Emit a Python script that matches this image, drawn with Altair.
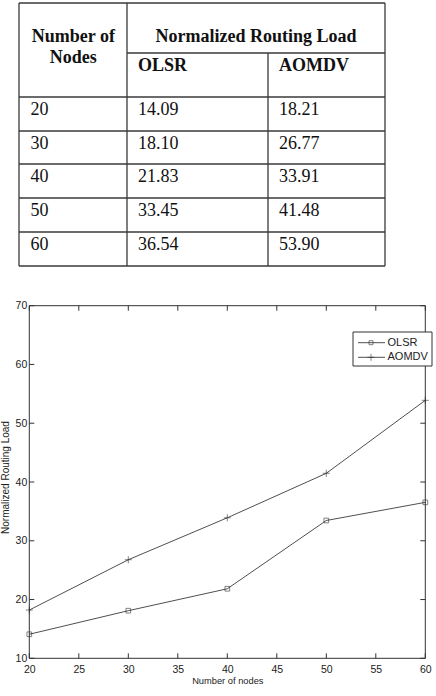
import altair as alt
import pandas as pd

# ---------------- data ----------------
nodes = [20, 30, 40, 50, 60]
olsr = [14.09, 18.10, 21.83, 33.45, 36.54]
aomdv = [18.21, 26.77, 33.91, 41.48, 53.90]
olsr_text = ["14.09", "18.10", "21.83", "33.45", "36.54"]
aomdv_text = ["18.21", "26.77", "33.91", "41.48", "53.90"]
nodes_text = ["20", "30", "40", "50", "60"]
x_ticks = [20, 25, 30, 35, 40, 45, 50, 55, 60]
y_ticks = [10, 20, 30, 40, 50, 60, 70]
header_group = "Normalized Routing Load"
header_first = ["Number of", "Nodes"]
series_names = ["OLSR", "AOMDV"]

# ---------------- layout (pixels) ----------------
W, H = 436, 696
COL_X = [19, 127, 268, 385]
TOP_Y, SUB_Y = 3, 53
ROW_LINES = [97, 131, 164, 198, 232, 266]
TXT = "#111111"
LINE = "#3a3a3a"
INK = "#222222"
SERIF = "Liberation Serif"
SANS = "Liberation Sans"

tx = alt.Scale(domain=[0, W], range=[0, W])
ty = alt.Scale(domain=[0, H], range=[0, H])

# table grid segments
segs = [dict(x=COL_X[0], x2=COL_X[3], y=TOP_Y, y2=TOP_Y),
        dict(x=COL_X[1], x2=COL_X[3], y=SUB_Y, y2=SUB_Y)]
segs += [dict(x=COL_X[0], x2=COL_X[3], y=r, y2=r) for r in ROW_LINES]
segs += [dict(x=COL_X[0], x2=COL_X[0], y=TOP_Y, y2=ROW_LINES[-1]),
         dict(x=COL_X[1], x2=COL_X[1], y=TOP_Y, y2=ROW_LINES[-1]),
         dict(x=COL_X[2], x2=COL_X[2], y=SUB_Y, y2=ROW_LINES[-1]),
         dict(x=COL_X[3], x2=COL_X[3], y=TOP_Y, y2=ROW_LINES[-1])]
seg_df = pd.DataFrame(segs)

grid = alt.Chart(seg_df).mark_rule(color=LINE, strokeWidth=1.3).encode(
    x=alt.X("x:Q", scale=tx, axis=None),
    x2="x2:Q",
    y=alt.Y("y:Q", scale=ty, axis=None),
    y2="y2:Q",
)

first_cx = (COL_X[0] + COL_X[1]) / 2 + 0.3
group_cx = (COL_X[1] + COL_X[3]) / 2
hdr_center = pd.DataFrame([
    dict(x=first_cx, y=42, t=header_first[0]),
    dict(x=first_cx, y=62.5, t=header_first[1]),
    dict(x=group_cx, y=42, t=header_group),
])
hdr_left = pd.DataFrame([
    dict(x=COL_X[1] + 11, y=71, t=series_names[0]),
    dict(x=COL_X[2] + 11, y=71, t=series_names[1]),
])
cells = []
for i in range(len(nodes)):
    yb = ROW_LINES[i] + 17.5
    cells.append(dict(x=COL_X[0] + 11.5, y=yb, t=nodes_text[i]))
    cells.append(dict(x=COL_X[1] + 11, y=yb, t=olsr_text[i]))
    cells.append(dict(x=COL_X[2] + 11, y=yb, t=aomdv_text[i]))
cell_df = pd.DataFrame(cells)

def table_text(df, align, weight):
    return alt.Chart(df).mark_text(
        align=align, baseline="alphabetic", font=SERIF, fontSize=18,
        fontWeight=weight, color=TXT,
    ).encode(
        x=alt.X("x:Q", scale=tx, axis=None),
        y=alt.Y("y:Q", scale=ty, axis=None),
        text="t:N",
    )

table = alt.layer(
    grid,
    table_text(hdr_center, "center", "bold"),
    table_text(hdr_left, "left", "bold"),
    table_text(cell_df, "left", "normal"),
)

# ---------------- line plot ----------------
PL, PR, PT, PB = 29.3, 425.3, 305.7, 658.3
def px():
    return alt.Scale(domain=[20, 60], range=[PL, PR], zero=False, nice=False)
def py():
    return alt.Scale(domain=[10, 70], range=[PB, PT], zero=False, nice=False)

df = pd.DataFrame({"nodes": nodes * 2,
                   "load": olsr + aomdv,
                   "series": ["OLSR"] * 5 + ["AOMDV"] * 5})

xaxis = alt.Axis(orient="bottom", offset=-(H - PB), values=x_ticks, domain=False,
                 ticks=False, grid=False, labelFont=SANS, labelFontSize=10.5,
                 labelColor=INK, labelPadding=6, labelFlush=False,
                 title="Number of nodes", titleFont=SANS, titleFontSize=9.3,
                 titleFontWeight="normal", titleColor=INK, titlePadding=2)
yaxis = alt.Axis(orient="left", offset=-PL, values=y_ticks, domain=False,
                 ticks=False, grid=False, labelFont=SANS, labelFontSize=10.5,
                 labelColor=INK, labelPadding=2.5, labelFlush=False,
                 title="Normalized Routing Load", titleFont=SANS, titleFontSize=10,
                 titleFontWeight="normal", titleColor=INK, titlePadding=4.5,
                 titleY=477)

lines = alt.Chart(df).mark_line(color=INK, strokeWidth=0.8).encode(
    x=alt.X("nodes:Q", scale=px(), axis=xaxis),
    y=alt.Y("load:Q", scale=py(), axis=yaxis),
    detail="series:N",
)
pts_olsr = alt.Chart(df[df.series == "OLSR"]).mark_point(
    shape="square", size=22, filled=False, color=INK, strokeWidth=0.8
).encode(x=alt.X("nodes:Q", scale=px()), y=alt.Y("load:Q", scale=py()))
PLUS = "M-1,0L1,0M0,-1L0,1"
pts_aomdv = alt.Chart(df[df.series == "AOMDV"]).mark_point(
    shape=PLUS, size=49, filled=False, color=INK, strokeWidth=0.8
).encode(x=alt.X("nodes:Q", scale=px()), y=alt.Y("load:Q", scale=py()))

frame = alt.Chart(pd.DataFrame({"a": [20], "b": [60], "c": [10], "d": [70]})).mark_rect(
    fillOpacity=0, stroke="#333333", strokeWidth=1
).encode(x=alt.X("a:Q", scale=px()), x2="b:Q", y=alt.Y("c:Q", scale=py()), y2="d:Q")

xt = pd.DataFrame({"t": x_ticks})
yt = pd.DataFrame({"t": y_ticks})
TK = 5
tick_bottom = alt.Chart(xt).mark_rule(color="#333333", y2Offset=-TK).encode(
    x=alt.X("t:Q", scale=px()), y=alt.Y(datum=10, scale=py()), y2=alt.Y2(datum=10))
tick_top = alt.Chart(xt).mark_rule(color="#333333", y2Offset=TK).encode(
    x=alt.X("t:Q", scale=px()), y=alt.Y(datum=70, scale=py()), y2=alt.Y2(datum=70))
tick_left = alt.Chart(yt).mark_rule(color="#333333", x2Offset=TK).encode(
    y=alt.Y("t:Q", scale=py()), x=alt.X(datum=20, scale=px()), x2=alt.X2(datum=20))
tick_right = alt.Chart(yt).mark_rule(color="#333333", x2Offset=-TK).encode(
    y=alt.Y("t:Q", scale=py()), x=alt.X(datum=60, scale=px()), x2=alt.X2(datum=60))

# legend (manual, MATLAB style)
one = pd.DataFrame({"k": [0]})
LX0, LX1, LY0, LY1 = 353, 432, 332, 366
ly = [342.7, 357.3]
leg_box = alt.Chart(one).mark_rect(fill="white", stroke="#333333", strokeWidth=1).encode(
    x=alt.value(LX0), x2=alt.value(LX1), y=alt.value(LY0), y2=alt.value(LY1))
leg_layers = [leg_box]
for i, name in enumerate(series_names):
    leg_layers.append(alt.Chart(one).mark_rule(color=INK, strokeWidth=0.8).encode(
        x=alt.value(358), x2=alt.value(385), y=alt.value(ly[i])))
    if name == "OLSR":
        mk = dict(shape="square", size=16)
    else:
        mk = dict(shape=PLUS, size=49)
    leg_layers.append(alt.Chart(one).mark_point(
        filled=False, color=INK, strokeWidth=0.8, **mk
    ).encode(x=alt.value(371), y=alt.value(ly[i])))
    leg_layers.append(alt.Chart(pd.DataFrame({"t": [name]})).mark_text(
        align="left", baseline="middle", font=SANS, fontSize=11, color=INK
    ).encode(x=alt.value(387.5), y=alt.value(ly[i]), text="t:N"))

plot = alt.layer(frame, tick_bottom, tick_top, tick_left, tick_right,
                 lines, pts_olsr, pts_aomdv, *leg_layers)

chart = alt.layer(table, plot).resolve_scale(x="independent", y="independent").properties(
    width=W, height=H, padding=0,
    autosize=alt.AutoSizeParams(type="none"),
    background="white",
).configure_view(stroke=None)

chart.save("out.html", embed_options={"renderer": "svg", "actions": False})
